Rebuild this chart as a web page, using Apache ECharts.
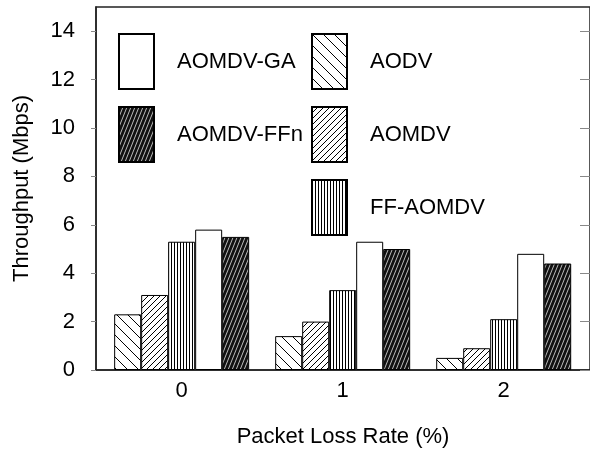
<!DOCTYPE html>
<html>
<head>
<meta charset="utf-8">
<script src="https://cdn.jsdelivr.net/npm/echarts@6/dist/echarts.min.js"></script>
<style>
html,body{margin:0;padding:0;background:#fff;}
#chart{width:590px;height:453px;}
</style>
</head>
<body>
<div id="chart"></div>
<script>
// ---- data ----
const categories = ['0', '1', '2'];
const categoryPos = [0, 1, 2];
const seriesNames = ['AODV', 'AOMDV', 'FF-AOMDV', 'AOMDV-GA', 'AOMDV-FFn'];
const aodv      = [2.3, 1.4, 0.5];
const aomdv     = [3.1, 2.0, 0.9];
const ffAomdv   = [5.3, 3.3, 2.1];
const aomdvGa   = [5.8, 5.3, 4.8];
const aomdvFfn  = [5.5, 5.0, 4.4];
const yTicks = [0, 2, 4, 6, 8, 10, 12, 14];

// ---- patterns ----
function makeTile(w, h, bg, fg, lw, segs) {
  const c = document.createElement('canvas');
  c.width = w; c.height = h;
  const g = c.getContext('2d');
  g.fillStyle = bg; g.fillRect(0, 0, w, h);
  g.strokeStyle = fg; g.lineWidth = lw;
  g.beginPath();
  segs.forEach(s => { g.moveTo(s[0], s[1]); g.lineTo(s[2], s[3]); });
  g.stroke();
  return c;
}
function back(s) { const a = []; [-s, 0, s].forEach(x => a.push([x, 0, x + s, s])); return a; }
function fwd(w, h) { const a = []; [-w, 0, w].forEach(x => a.push([x, h, x + w, 0])); return a; }

const patAodv = { image: makeTile(11, 11, '#fff', '#000', 1, back(11)), repeat: 'repeat' };
const patAomdv = { image: makeTile(6, 6, '#fff', '#000', 1, fwd(6, 6)), repeat: 'repeat' };
const patFf = { image: makeTile(3, 4, '#fff', '#000', 1, [[0.5, 0, 0.5, 4]]), repeat: 'repeat' };
const patFfn = { image: makeTile(4, 10, '#111', '#e8e8e8', 0.8, fwd(4, 10)), repeat: 'repeat' };
const fills = [patAodv, patAomdv, patFf, '#ffffff', patFfn];
const values = [aodv, aomdv, ffAomdv, aomdvGa, aomdvFfn];

const font = 'Liberation Sans, Arial, sans-serif';
const legendText = { fontSize: 22, fontFamily: font, color: '#000', padding: [0, 0, 0, 18] };

const chart = echarts.init(document.getElementById('chart'), null, { renderer: 'canvas' });
chart.setOption({
  animation: false,
  backgroundColor: '#fff',
  textStyle: { fontFamily: font, color: '#000' },
  grid: { left: 96, top: 7, right: -2, bottom: 83, show: true, borderColor: '#222', borderWidth: 1.5, backgroundColor: 'transparent' },
  legend: [
    {
      data: ['AOMDV-GA', 'AOMDV-FFn'], orient: 'vertical', left: 118, top: 33, padding: 0,
      itemWidth: 35, itemHeight: 55, itemGap: 16, icon: 'rect', selectedMode: false,
      textStyle: legendText
    },
    {
      data: ['AODV', 'AOMDV', 'FF-AOMDV'], orient: 'vertical', left: 311, top: 33, padding: 0,
      itemWidth: 35, itemHeight: 55, itemGap: 16, icon: 'rect', selectedMode: false,
      textStyle: legendText
    }
  ],
  xAxis: {
    type: 'value', min: -0.532, max: 2.536,
    name: 'Packet Loss Rate (%)', nameLocation: 'middle', nameGap: 56,
    nameTextStyle: { fontSize: 22, fontFamily: font, color: '#000' },
    axisLine: { show: true, onZero: false, lineStyle: { color: '#222', width: 1.5 } },
    axisTick: { show: false },
    splitLine: { show: false },
    axisLabel: {
      customValues: categoryPos, fontSize: 22, fontFamily: font, color: '#000', margin: 10,
      formatter: v => categories[Math.round(v)]
    }
  },
  yAxis: [
    {
      type: 'value', min: 0, max: 15,
      name: 'Throughput (Mbps)', nameLocation: 'middle', nameGap: 63,
      nameTextStyle: { fontSize: 22, fontFamily: font, color: '#000' },
      axisLine: { show: true, onZero: false, lineStyle: { color: '#222', width: 1.5 } },
      axisTick: { show: true, customValues: yTicks, length: 5, lineStyle: { color: '#888' } },
      axisLabel: { customValues: yTicks, fontSize: 22, fontFamily: font, color: '#000', margin: 21 },
      splitLine: { show: false }
    },
    {
      type: 'value', min: 0, max: 15, position: 'right',
      axisLine: { show: false, onZero: false },
      axisTick: { show: true, inside: true, customValues: yTicks, length: 10, lineStyle: { color: '#888' } },
      axisLabel: { show: false },
      splitLine: { show: false }
    }
  ],
  series: seriesNames.map((n, i) => ({
    name: n, type: 'bar', barWidth: 27, barGap: '0%',
    itemStyle: { color: fills[i], borderColor: '#000', borderWidth: 1 },
    data: categoryPos.map((x, j) => [x, values[i][j]])
  }))
});
</script>
</body>
</html>
